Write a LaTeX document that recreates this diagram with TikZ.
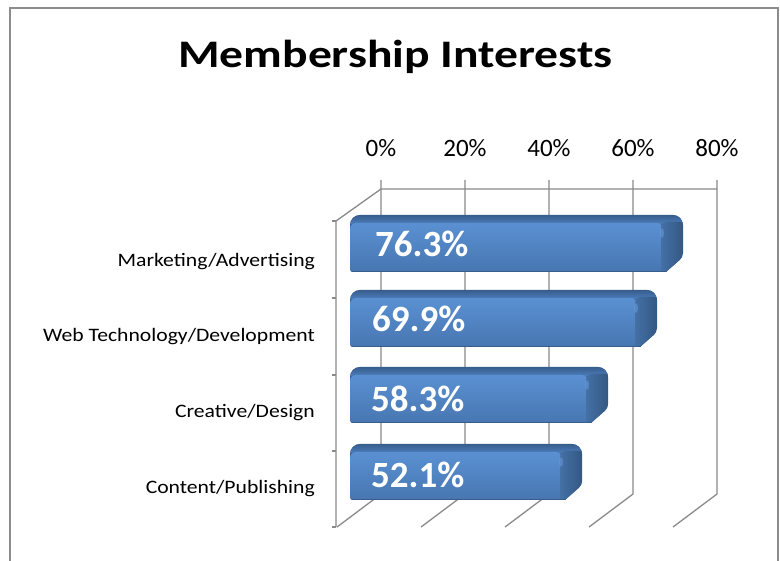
\documentclass[tikz,border=0pt]{standalone}
\usepackage{fontspec}
\usepackage{graphicx}
\setmainfont{Carlito}
\definecolor{gridgray}{HTML}{8A8A8A}
\definecolor{framegray}{HTML}{8C8C8C}
\definecolor{bandtop}{HTML}{375D8C}
\definecolor{bandbot}{HTML}{4C7EBB}
\definecolor{facehi}{HTML}{5A90D2}
\definecolor{facemid}{HTML}{4F82C0}
\definecolor{facelo}{HTML}{4573AD}
\definecolor{capl}{HTML}{4470A6}
\definecolor{capr}{HTML}{2F5179}
\definecolor{barsil}{HTML}{3D6699}
\definecolor{hilite}{HTML}{6AA0E0}
\tikzset{
  grid line/.style={draw=gridgray, line width=1.3pt},
  cat label/.style={anchor=base east, font=\fontsize{19}{21}\selectfont, inner sep=0pt},
  axis label/.style={anchor=base, font=\fontsize{25}{27}\selectfont, inner sep=0pt},
  val label/.style={anchor=base west, text=white, font=\bfseries\fontsize{37}{40}\selectfont, inner sep=0pt},
}
\newcommand\wide[2]{\scalebox{#1}[1]{#2}}
% #1 left, #2 top, #3 bottom, #4 right
\newcommand\drawbar[4]{%
  \begin{scope}
    \clip (#1+3,#3) [rounded corners=3pt] -- (#1,#3) [rounded corners=10pt] -- (#1,#2) -- (#4,#2) [rounded corners=4pt] -- (#4,#3-15) [sharp corners] -- (#4-17,#3) -- cycle;
    \fill[barsil] (#1,#2) rectangle (#4,#3);
    \shade[top color=bandtop, bottom color=bandbot] (#1,#2) rectangle (#4,#2+9);
    \shade[top color=facehi, middle color=facemid, bottom color=facelo, rounded corners=6pt] (#1,#2+8) -- (#4-20,#2+8) -- (#4-20,#3+6) -- (#1,#3+6) -- cycle;
    \shade[left color=capl, right color=capr, rounded corners=6pt] (#4-22,#2+7) -- (#4+6,#2+7) -- (#4+6,#3+6) -- (#4-22,#3+6) -- cycle;
    \fill[hilite, opacity=0.5] (#4-21,#2+18) ellipse (2 and 5);
    \draw[bandtop, line width=1pt] (#1,#3-0.5) -- (#4,#3-0.5);
  \end{scope}}
\begin{document}
\begin{tikzpicture}[x=1pt, y=-1pt]
  \useasboundingbox (0,0) rectangle (780,561);
  \clip (0,0) rectangle (780,561);
  \fill[white] (0,0) rectangle (780,561);
  \draw[framegray, line width=1.5pt] (10,8) rectangle (778,580);

  \node[anchor=base, font=\bfseries\fontsize{39}{42}\selectfont, inner sep=0pt] (title) at (395.5,67.3) {\wide{1.22}{Membership Interests}};

  % axis labels
  \foreach \v/\x in {0/381,20/465,40/549,60/633,80/717}{
    \node[axis label] (ax\v) at (\x,156.7) {\v\%};
  }

  % back wall and floor grid
  \foreach \x in {381,465,549,633,717}{
    \coordinate (gt\x) at (\x,180);
    \coordinate (gb\x) at (\x,494);
    \coordinate (gf\x) at (\x-44,527);
    \draw[grid line] (gt\x) -- (gb\x) -- (gf\x);
  }
  \coordinate (wallTL) at (381,189);
  \coordinate (wallTR) at (717,189);
  \coordinate (sideT) at (336,221);
  \coordinate (sideB) at (336,527);
  \draw[grid line] (wallTR) -- (wallTL) -- (sideT) -- (sideB);
  \foreach \y in {221,298,375,451,527}{
    \coordinate (tk\y) at (336,\y);
    \coordinate (tl\y) at (331.5,\y);
    \draw[grid line] (tl\y) -- (tk\y);
  }

  % bars
  \drawbar{350}{215}{272}{683}
  \drawbar{350}{290}{347}{657}
  \drawbar{350}{367}{423}{608}
  \drawbar{350}{444}{500}{582}

  \node[val label] (v1) at (375,256.7) {76.3\%};
  \node[val label] (v2) at (372,331.7) {69.9\%};
  \node[val label] (v3) at (371,411.7) {58.3\%};
  \node[val label] (v4) at (371,488) {52.1\%};

  \node[cat label] (c1) at (315,266.7) {\wide{1.14}{Marketing/Advertising}};
  \node[cat label] (c2) at (315,341.7) {\wide{1.14}{Web Technology/Development}};
  \node[cat label] (c3) at (315,417.5) {\wide{1.14}{Creative/Design}};
  \node[cat label] (c4) at (315,493.5) {\wide{1.14}{Content/Publishing}};
\end{tikzpicture}
\end{document}
